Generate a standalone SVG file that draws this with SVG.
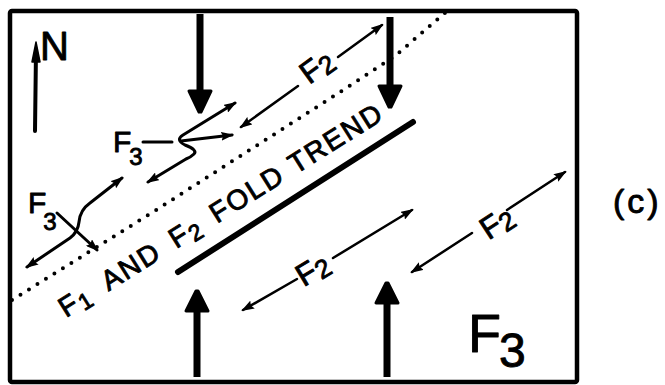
<svg xmlns="http://www.w3.org/2000/svg" width="665" height="385" viewBox="0 0 665 385">
<defs>
<style>
text{font-family:"Liberation Sans","DejaVu Sans",Arial,sans-serif;fill:#000;stroke:#000;stroke-width:0.9;stroke-linejoin:round}
.ln{fill:none;stroke:#000;stroke-linecap:round;stroke-linejoin:round}
.thin{stroke-width:2.5}
.med{stroke-width:3}
.big{stroke-width:7;stroke-linecap:butt}
.head{fill:#000;stroke:#000;stroke-width:3;stroke-linejoin:round}
.dots{fill:none;stroke:#000;stroke-width:4;stroke-linecap:round;stroke-dasharray:0 10}
</style>
<marker id="ah" viewBox="0 0 13 9" refX="11" refY="4.5" markerWidth="13" markerHeight="9" markerUnits="userSpaceOnUse" orient="auto-start-reverse">
<path d="M0,0 L13,4.5 L0,9 L2,4.5 z" fill="#000"/>
</marker>
</defs>
<rect width="665" height="385" fill="#fff"/>
<g id="frame"><rect x="10" y="11" width="567" height="371" fill="none" stroke="#000" stroke-width="4.5" rx="2"/></g>
<g id="north">
<path class="ln" d="M35,131 L36,50" stroke-width="4"/>
<path d="M36,42 L40,62 L32,62 z" fill="#000" stroke="#000" stroke-width="1.5" stroke-linejoin="round"/>
<text x="40" y="60" font-size="40">N</text>
</g>
<g id="trend">
<path class="dots" d="M12,300 L153,212 L337,94 L395,56 L446,12"/>
<path class="ln" d="M178,272 L413,122" stroke-width="6"/>
<g transform="translate(66,318) rotate(-32)">
<text font-size="28" letter-spacing="2"><tspan x="0" y="0">F</tspan><tspan font-size="23" dy="4">1</tspan><tspan x="50" y="0">AND</tspan><tspan x="130" y="0">F</tspan><tspan font-size="23" dy="4">2</tspan><tspan x="178" y="0">FOLD</tspan><tspan x="271" y="0">TREND</tspan></text>
</g>
</g>
<g id="compression">
<path class="ln big" d="M200,14 L200,93"/>
<path class="head" d="M189,91 L211,91 L201,112 L199,112 z"/>
<path class="ln big" d="M390,17 L390,88"/>
<path class="head" d="M379,86 L401,86 L391,107 L389,107 z"/>
<path class="ln big" d="M197,377 L197,310"/>
<path class="head" d="M186,311 L208,311 L198,291 L196,291 z"/>
<path class="ln big" d="M387,377 L387,302"/>
<path class="head" d="M376,303 L398,303 L388,283 L386,283 z"/>
</g>
<g id="connectors">
<path class="ln thin" d="M298,86 L241,127" marker-end="url(#ah)"/>
<path class="ln thin" d="M338,57 L382,25" marker-end="url(#ah)"/>
<path class="ln thin" d="M297,279 L243,310" marker-end="url(#ah)"/>
<path class="ln thin" d="M333,258 L412,210" marker-end="url(#ah)"/>
<path class="ln thin" d="M472,233 L412,272" marker-end="url(#ah)"/>
<path class="ln thin" d="M507,210 L565,172" marker-end="url(#ah)"/>
<path class="ln med" d="M143,142 L172,142"/>
<path class="ln med" d="M235,103 L183,135 Q175,140 185,145 Q198,150 194,154 Q191,157 186,159 L148,182" marker-start="url(#ah)" marker-end="url(#ah)"/>
<path class="ln med" d="M181,141 L232,135" marker-end="url(#ah)"/>
<path class="ln med" d="M57,213 L97,250" marker-end="url(#ah)"/>
<path class="ln med" d="M27,267 L70,238 Q78,232 79,222 Q80,210 90,203 L122,178" marker-start="url(#ah)" marker-end="url(#ah)"/>
</g>
<g id="labels">
<text transform="translate(317,67) rotate(-36)" font-size="31" text-anchor="middle" y="10">F<tspan font-size="26" dy="3">2</tspan></text>
<text transform="translate(313,270) rotate(-31)" font-size="31" text-anchor="middle" y="10">F<tspan font-size="26" dy="3">2</tspan></text>
<text transform="translate(497,223) rotate(-33)" font-size="31" text-anchor="middle" y="10">F<tspan font-size="26" dy="3">2</tspan></text>
<text x="113" y="152" font-size="30">F<tspan font-size="24" dx="-2" dy="13">3</tspan></text>
<text x="28" y="213" font-size="30">F<tspan font-size="24" dx="-3" dy="17">3</tspan></text>
<text x="468" y="352" font-size="54">F<tspan font-size="48" dx="-2" dy="15">3</tspan></text>
<text x="613" y="213" font-size="34" letter-spacing="3">(c)</text>
</g>
</svg>
